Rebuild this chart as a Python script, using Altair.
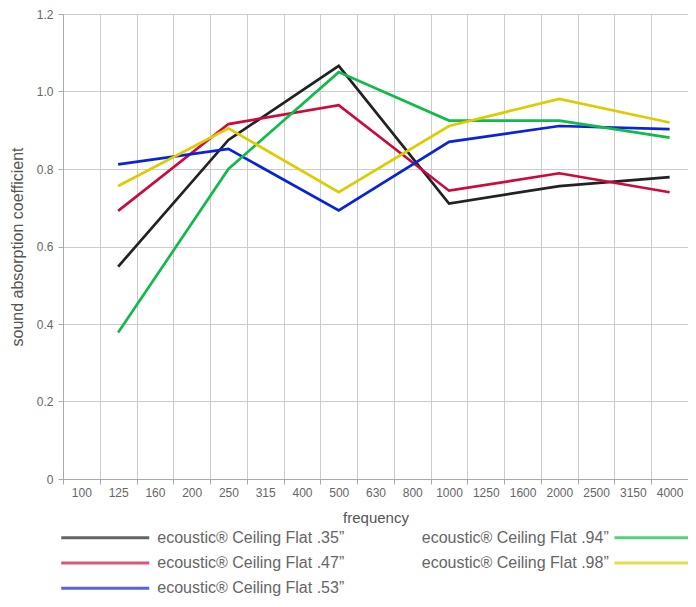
import altair as alt
import pandas as pd

frequencies = ["100", "125", "160", "200", "250", "315", "400", "500", "630",
               "800", "1000", "1250", "1600", "2000", "2500", "3150", "4000"]
measured_freqs = ["125", "250", "500", "1000", "2000", "4000"]

series_names = [
    "ecoustic® Ceiling Flat .35”",
    "ecoustic® Ceiling Flat .47”",
    "ecoustic® Ceiling Flat .53”",
    "ecoustic® Ceiling Flat .94”",
    "ecoustic® Ceiling Flat .98”",
]
series_colors = ["#222222", "#cc0a3c", "#0a22d9", "#10bb48", "#dccc00"]

flat_35 = [0.548, 0.875, 1.066, 0.711, 0.756, 0.779]
flat_47 = [0.692, 0.916, 0.965, 0.744, 0.789, 0.740]
flat_53 = [0.812, 0.852, 0.693, 0.870, 0.911, 0.903]
flat_94 = [0.378, 0.800, 1.050, 0.925, 0.925, 0.881]
flat_98 = [0.756, 0.905, 0.740, 0.911, 0.981, 0.920]
all_values = [flat_35, flat_47, flat_53, flat_94, flat_98]

legend_col = [0, 0, 0, 1, 1]
legend_row = [0, 1, 2, 0, 1]

rows = []
for name, vals in zip(series_names, all_values):
    for f, v in zip(measured_freqs, vals):
        rows.append({"series": name, "freq": f, "value": v})
df = pd.DataFrame(rows)

leg = pd.DataFrame({"series": series_names, "col": legend_col, "row": legend_row})

FONT = "Liberation Sans"
color_scale = alt.Scale(domain=series_names, range=series_colors)

main = alt.Chart(df).mark_line(strokeWidth=2.7).encode(
    x=alt.X("freq:O", sort=frequencies,
            scale=alt.Scale(type="band", domain=frequencies, paddingInner=0, paddingOuter=0),
            axis=alt.Axis(title="frequency", labelAngle=0, tickBand="extent",
                          grid=True, gridColor="#cccccc", domainColor="#aaaaaa",
                          tickColor="#aaaaaa", tickSize=5, labelPadding=3,
                          labelFont=FONT, labelFontSize=12, labelColor="#666666",
                          titleFont=FONT, titleFontSize=15, titleFontWeight="normal",
                          titleColor="#555555", titlePadding=12)),
    y=alt.Y("value:Q", scale=alt.Scale(domain=[0, 1.2], nice=False),
            axis=alt.Axis(title="sound absorption coefficient",
                          values=[0, 0.2, 0.4, 0.6, 0.8, 1.0, 1.2],
                          labelExpr="datum.value == 0 ? '0' : format(datum.value, '.1f')",
                          grid=True, gridColor="#cccccc", domainColor="#aaaaaa",
                          tickColor="#aaaaaa", tickSize=5, labelPadding=5,
                          labelFont=FONT, labelFontSize=12, labelColor="#666666",
                          titleFont=FONT, titleFontSize=16, titleFontWeight="normal",
                          titleColor="#555555", titlePadding=11)),
    color=alt.Color("series:N", scale=color_scale, legend=None),
)

leg_x = alt.X("col:O", scale=alt.Scale(type="band", domain=[0, 1], paddingInner=0,
                                        paddingOuter=0, range=[0, {"expr": "width"}]),
              axis=None)
leg_y = alt.Y("row:O", scale=alt.Scale(type="band", domain=[0, 1, 2], paddingInner=0,
                                        paddingOuter=0,
                                        range=[{"expr": "height + 46"}, {"expr": "height + 122"}]),
              axis=None)
leg_color = alt.Color("series:N", scale=color_scale, legend=None)

leg_base = alt.Chart(leg).encode(x=leg_x, y=leg_y)

leg_line_left = leg_base.transform_filter("datum.col == 0").mark_tick(
    orient="horizontal", size=88, thickness=3, xOffset=-114
).encode(color=leg_color)
leg_text_left = leg_base.transform_filter("datum.col == 0").mark_text(
    align="left", baseline="middle", xOffset=-62, font=FONT, fontSize=16, color="#666666"
).encode(text="series:N")
leg_line_right = leg_base.transform_filter("datum.col == 1").mark_tick(
    orient="horizontal", size=74, thickness=3, xOffset=119.75
).encode(color=leg_color)
leg_text_right = leg_base.transform_filter("datum.col == 1").mark_text(
    align="right", baseline="middle", xOffset=77, font=FONT, fontSize=16, color="#666666"
).encode(text="series:N")

chart = alt.layer(
    main, leg_line_left, leg_text_left, leg_line_right, leg_text_right
).resolve_scale(
    x="independent", y="independent"
).properties(
    width=625, height=465,
    autosize=alt.AutoSizeParams(type="none"),
    padding={"left": 55, "top": 6, "right": 0, "bottom": 120},
).configure_view(stroke=None)

chart.save("out.html", embed_options={"renderer": "svg", "actions": False})
